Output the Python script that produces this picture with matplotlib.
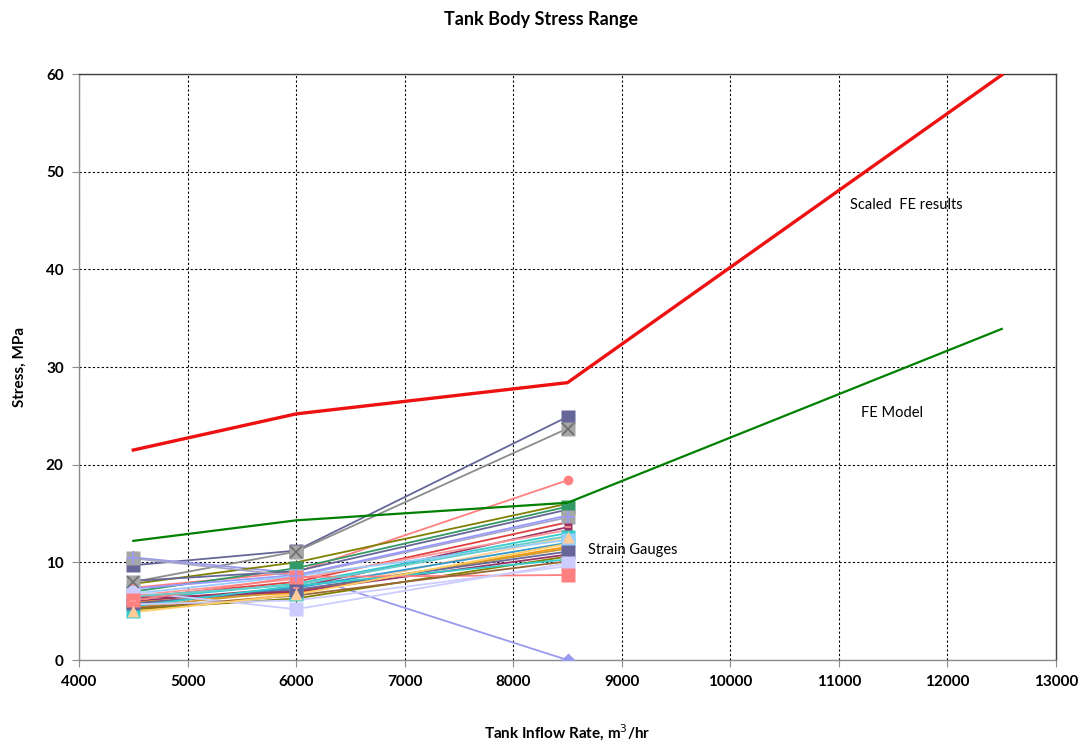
import matplotlib
matplotlib.use("Agg")
import matplotlib.pyplot as plt

# Inflow rates (m3/hr)
flow_fe = [4500, 6000, 8500, 12500]
flow_gauge = [4500, 6000, 8500]

# Finite element predictions (MPa)
scaled_fe = [21.5, 25.2, 28.4, 59.9]
fe_model = [12.2, 14.3, 16.1, 33.9]

# Strain gauge stress ranges (MPa) at 4500, 6000, 8500 m3/hr
sg_a = [9.7, 11.2, 24.9]
sg_b = [8.0, 11.1, 23.7]
sg_c = [10.5, 8.9, 0.0]
sg_d = [7.4, 9.0, 18.4]
sg_e = [7.8, 10.0, 16.0]
sg_f = [7.0, 9.4, 15.7]
sg_g = [8.1, 9.1, 15.4]
sg_h = [10.4, 8.6, 14.6]
sg_i = [7.3, 8.7, 14.8]
sg_j = [6.4, 8.0, 14.1]
sg_k = [6.0, 7.4, 13.6]
sg_l = [6.6, 8.3, 13.3]
sg_m = [6.2, 7.8, 13.0]
sg_n = [5.0, 6.8, 12.6]
sg_o = [6.8, 8.6, 12.3]
sg_p = [5.6, 7.4, 12.0]
sg_q = [5.9, 6.9, 11.6]
sg_r = [5.4, 7.1, 11.4]
sg_s = [5.8, 7.2, 11.1]
sg_t = [5.2, 6.3, 10.6]
sg_u = [6.3, 7.0, 10.8]
sg_v = [5.5, 7.6, 10.3]
sg_w = [7.0, 5.2, 9.9]
sg_x = [6.1, 8.5, 8.7]
sg_y = [5.3, 6.6, 10.1]
sg_z = [6.5, 7.7, 12.7]
sg_aa = [5.7, 6.1, 9.6]
sg_ab = [4.9, 6.7, 11.9]

gauges = [
    (sg_a, "#666699", "s"), (sg_b, "#8C8C8C", "x"), (sg_c, "#9999EE", "D"),
    (sg_d, "#FF8080", "o"), (sg_e, "#808000", None), (sg_f, "#339966", "s"),
    (sg_g, "#666699", None), (sg_h, "#A6A6C8", "+"), (sg_i, "#9999FF", None),
    (sg_j, "#E04040", None), (sg_k, "#993366", "_"), (sg_l, "#FF9999", None),
    (sg_m, "#33CCCC", None), (sg_n, "#FFCC99", "^"), (sg_o, "#99CCFF", "s"),
    (sg_p, "#3399CC", None), (sg_q, "#FF9900", None), (sg_r, "#CC9933", None),
    (sg_s, "#666699", "s"), (sg_t, "#808000", None), (sg_u, "#993366", None),
    (sg_v, "#33CCCC", None), (sg_w, "#CCCCFF", "s"), (sg_x, "#FF8080", "s"),
    (sg_y, "#996633", None), (sg_z, "#66CCCC", None), (sg_aa, "#CCCCFF", None),
    (sg_ab, "#FFCC66", None),
]

plt.rcParams["font.family"] = ["Lato", "DejaVu Sans"]

fig = plt.figure(figsize=(10.81, 7.5), dpi=100)
ax = fig.add_axes([0.0731, 0.12, 0.9038, 0.7813])

for vals, col, mk in gauges:
    ax.plot(flow_gauge, vals, color=col, lw=1.3, zorder=3)
    if mk in ("x", "+"):
        # symbol drawn on a grey square backing
        ax.plot(flow_gauge, vals, ls="none", marker="s", ms=10, color="#A6A6A6",
                mec="none", zorder=4)
        ax.plot(flow_gauge, vals, ls="none", marker=mk, ms=8, mew=1.2,
                color="#6E6E6E" if mk == "x" else "#9999FF", zorder=5)
    elif mk == "_":
        ax.plot(flow_gauge, vals, ls="none", marker="s", ms=6, color=col,
                mec="none", zorder=4)
        ax.plot(flow_gauge, vals, ls="none", marker="_", ms=5, mew=1.2,
                color="#FF9999", zorder=5)
    elif mk == "^":
        ax.plot(flow_gauge, vals, ls="none", marker="s", ms=10, color="#33CCCC",
                mec="none", zorder=4)
        ax.plot(flow_gauge, vals, ls="none", marker="^", ms=8, color=col,
                mec="none", zorder=5)
    elif mk is not None:
        ax.plot(flow_gauge, vals, ls="none", marker=mk, color=col,
                ms=7 if mk in ("o", "D") else 10, mec="none", zorder=4)

ax.plot(flow_fe, fe_model, color="#008000", lw=1.6, zorder=6)
ax.plot(flow_fe, scaled_fe, color="#EE1111", lw=2.4, zorder=6)

ax.text(11100, 46.6, "Scaled  FE results", fontsize=10.5, va="center")
ax.text(11200, 25.3, "FE Model", fontsize=10.5, va="center")
ax.text(8690, 11.3, "Strain Gauges", fontsize=10.5, va="center")

ax.set_xlim(4000, 13000)
ax.set_ylim(0, 60)
ax.set_xticks(range(4000, 13001, 1000))
ax.set_yticks(range(0, 61, 10))
ax.grid(True, color="black", ls=(0, (2, 2)), lw=0.8)
ax.set_axisbelow(True)

for side in ("left", "bottom"):
    ax.spines[side].set_color("#8C8C8C")
for side in ("top", "right"):
    ax.spines[side].set_color("#404040")
for sp in ax.spines.values():
    sp.set_linewidth(1.0)
ax.tick_params(axis="both", direction="out", length=5, color="#8C8C8C",
               labelsize=11, pad=6)
for lbl in ax.get_xticklabels() + ax.get_yticklabels():
    lbl.set_fontweight("bold")

ax.set_xlabel("Tank Inflow Rate, m$^3$/hr", fontsize=11, fontweight="bold", labelpad=24)
ax.set_ylabel("Stress, MPa", fontsize=11, fontweight="bold", labelpad=14)
fig.suptitle("Tank Body Stress Range", fontsize=13, fontweight="bold", y=0.985)

fig.savefig("out.png", dpi=100)
